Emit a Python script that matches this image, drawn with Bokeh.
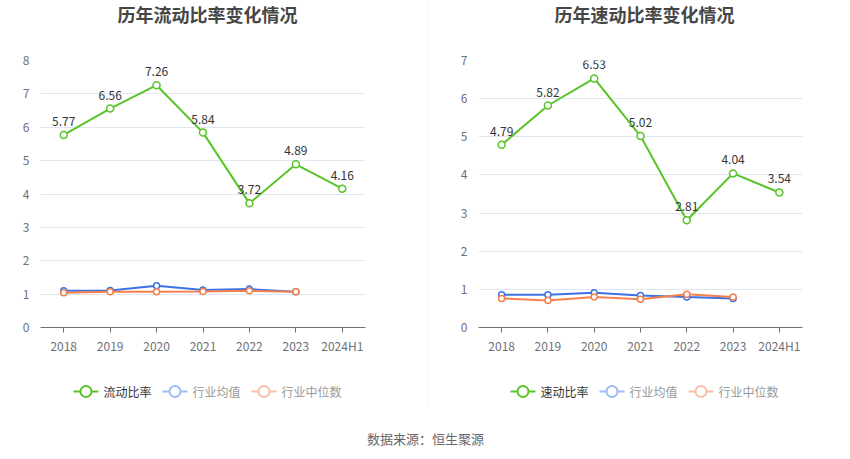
from bokeh.plotting import figure
from bokeh.models import FactorRange, Range1d, SingleIntervalTicker
from bokeh.layouts import row, column
from bokeh.embed import file_html
from bokeh.resources import INLINE
from bokeh.core.properties import value

FONT = "Noto Sans CJK SC"

# ---- data ----
years = ["2018", "2019", "2020", "2021", "2022", "2023", "2024H1"]
ind_years = ["2018", "2019", "2020", "2021", "2022", "2023"]

current_ratio = [5.77, 6.56, 7.26, 5.84, 3.72, 4.89, 4.16]
current_avg = [1.10, 1.11, 1.25, 1.12, 1.15, 1.07]
current_median = [1.04, 1.07, 1.07, 1.08, 1.10, 1.07]

quick_ratio = [4.79, 5.82, 6.53, 5.02, 2.81, 4.04, 3.54]
quick_avg = [0.86, 0.86, 0.91, 0.84, 0.80, 0.76]
quick_median = [0.76, 0.71, 0.80, 0.74, 0.87, 0.80]

legend_names = ["行业均值", "行业中位数"]

GREEN = "#58c428"
BLUE = "#3c72e6"
ORANGE = "#f6804c"
LIGHT_BLUE = "#a0bbf3"
LIGHT_ORANGE = "#f9bfa6"
AXIS = "#6e7079"


def blank(width, height, bl=0, br=0):
    # x coordinates in this figure are pixel positions from its left edge
    f = figure(width=width, height=height, x_range=Range1d(bl, width - br),
               y_range=Range1d(0, height), output_backend="svg",
               toolbar_location=None, x_axis_type=None, y_axis_type=None,
               min_border=0, min_border_left=bl, min_border_right=br)
    f.outline_line_color = None
    f.grid.grid_line_color = None
    return f


def make_title(text, width, cx, bl, br):
    f = blank(width, 40, bl, br)
    f.text(x=[cx], y=[26.5], text=[text], text_align="center", text_baseline="middle",
           text_font=value(FONT), text_font_size="18px", text_font_style="bold",
           text_color="#464646")
    return f


def make_chart(main, avg, med, ymax, width, bl, br):
    p = figure(width=width, height=330, x_range=FactorRange(factors=years),
               y_range=Range1d(0, ymax), output_backend="svg", toolbar_location=None,
               min_border_left=bl, min_border_right=br, min_border_top=20,
               min_border_bottom=43)
    p.outline_line_color = None

    p.xgrid.grid_line_color = None
    p.ygrid.grid_line_color = "#e0e6f1"
    p.yaxis.ticker = SingleIntervalTicker(interval=1)
    p.yaxis.axis_line_color = None
    p.yaxis.major_tick_line_color = None
    p.yaxis.minor_tick_line_color = None
    p.yaxis.major_tick_out = 0
    p.yaxis.major_label_standoff = 7
    p.xaxis.axis_line_color = AXIS
    p.xaxis.major_tick_line_color = AXIS
    p.xaxis.major_tick_out = 5
    p.xaxis.major_tick_in = 0
    p.xaxis.major_label_standoff = 4
    for ax in (p.xaxis, p.yaxis):
        ax.major_label_text_font = FONT
        ax.major_label_text_font_size = "12px"
        ax.major_label_text_color = AXIS

    p.line(ind_years, avg, color=BLUE, line_width=2)
    p.scatter(ind_years, avg, marker="circle", size=6, fill_color="white",
              line_color=BLUE, line_width=1.5)
    p.line(ind_years, med, color=ORANGE, line_width=2)
    p.scatter(ind_years, med, marker="circle", size=6, fill_color="white",
              line_color=ORANGE, line_width=1.5)

    p.line(years, main, color=GREEN, line_width=2)
    p.scatter(years, main, marker="circle", size=7, fill_color="white",
              line_color=GREEN, line_width=1.5)
    p.text(years, main, text=[f"{v:.2f}" for v in main], text_align="center",
           text_baseline="bottom", y_offset=-9, text_font=value(FONT),
           text_font_size="12px", text_color="#333333")
    return p


def make_legend(name, width, starts, bl, br):
    f = blank(width, 40, bl, br)
    y = 19
    labels = [name] + legend_names
    colors = [GREEN, LIGHT_BLUE, LIGHT_ORANGE]
    text_colors = ["#333333", "#999999", "#999999"]
    for x0, lab, c, tc in zip(starts, labels, colors, text_colors):
        f.line(x=[x0, x0 + 25], y=[y, y], color=c, line_width=2)
        f.scatter(x=[x0 + 12.5], y=[y], marker="circle", size=11, fill_color="white",
                  line_color=c, line_width=2)
        f.text(x=[x0 + 30], y=[y], text=[lab], text_align="left",
               text_baseline="middle", text_font=value(FONT),
               text_font_size="12px", text_color=tc)
    return f


W1, W2 = 427, 422
B1 = (40, 62)
B2 = (50, 48)
left = column(make_title("历年流动比率变化情况", W1, 207, *B1),
              make_chart(current_ratio, current_avg, current_median, 8, W1, *B1),
              make_legend("流动比率", W1, [73, 162, 251], *B1))
right = column(make_title("历年速动比率变化情况", W2, 216, *B2),
               make_chart(quick_ratio, quick_avg, quick_median, 7, W2, *B2),
               make_legend("速动比率", W2, [82, 171, 260], *B2))

sep = blank(1, 407)
sep.background_fill_color = "#eeeeee"
sep.border_fill_color = "#eeeeee"

foot = blank(850, 49)
foot.text(x=[425], y=[21], text=["数据来源：恒生聚源"], text_align="center",
          text_baseline="middle", text_font=value(FONT), text_font_size="13px",
          text_color="#666666")

layout = column(row(left, sep, right), foot)
open("out.html", "w").write(file_html(layout, INLINE))
